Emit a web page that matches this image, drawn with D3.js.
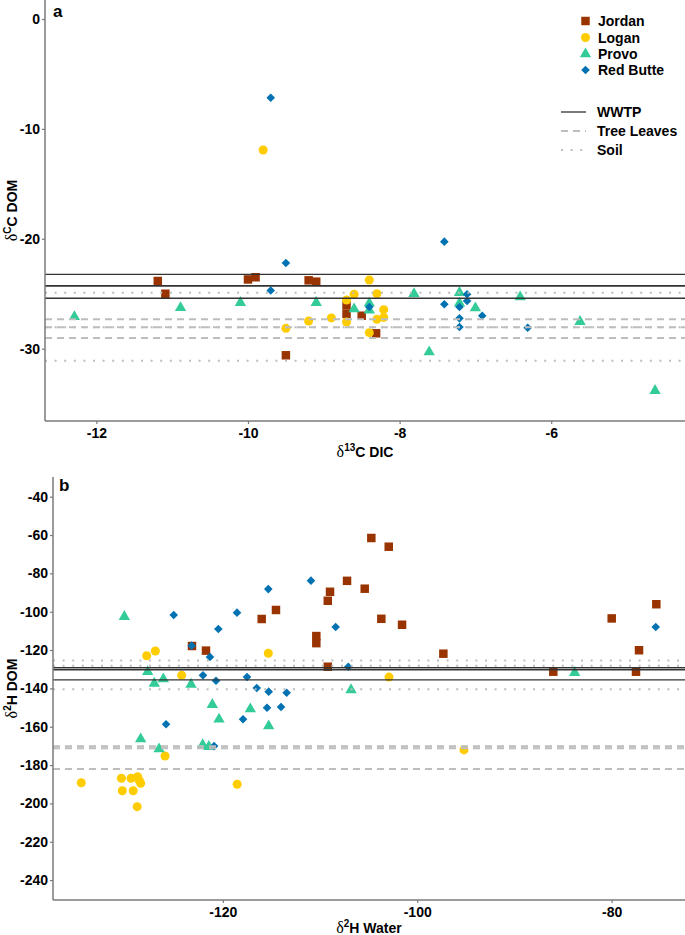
<!DOCTYPE html>
<html><head><meta charset="utf-8">
<script src="https://cdn.jsdelivr.net/npm/d3@7"></script>
<style>
body{margin:0;background:#fff}
svg{display:block}
text{font-family:"Liberation Sans",Arial,sans-serif;font-weight:bold;fill:#000}
.dl{font-family:"Liberation Serif","DejaVu Serif",serif;font-weight:normal}
</style>
</head><body><svg id="c" width="685" height="935"></svg>
<script>
// ---------- DATA ----------
const siteNames = ["Jordan", "Logan", "Provo", "Red Butte"];
const siteColors = ["#993300", "#FFCC00", "#33CC99", "#0072B2"];

// Panel a: [δ13C DIC, δ13C DOM]
const jordanA = [[-11.19,-23.84],[-11.09,-25.0],[-10.0,-23.7],[-9.90,-23.5],[-9.20,-23.78],[-9.10,-23.9],[-9.50,-30.6],[-8.70,-26.07],[-8.70,-26.84],[-8.50,-27.0],[-8.31,-28.6]];
const loganA = [[-9.80,-11.92],[-9.50,-28.15],[-9.20,-27.48],[-8.90,-27.2],[-8.70,-25.57],[-8.70,-27.57],[-8.60,-25.05],[-8.40,-23.75],[-8.30,-25.0],[-8.21,-26.45],[-8.21,-27.15],[-8.30,-27.33],[-8.40,-28.54]];
const provoA = [[-12.29,-27.09],[-10.89,-26.27],[-10.10,-25.81],[-9.10,-25.81],[-8.60,-26.39],[-8.40,-25.87],[-8.40,-26.5],[-7.81,-25.0],[-7.21,-24.9],[-7.21,-25.87],[-7.0,-26.3],[-6.41,-25.3],[-5.62,-27.54],[-7.61,-30.3],[-4.63,-33.82]];
const redButteA = [[-9.70,-7.16],[-9.50,-22.2],[-9.70,-24.7],[-7.41,-20.26],[-8.40,-26.2],[-7.41,-25.96],[-7.11,-25.05],[-7.11,-25.66],[-7.21,-26.2],[-6.91,-27.0],[-7.21,-27.24],[-7.21,-28.03],[-6.31,-28.1]];

// Panel b: [δ2H Water, δ2H DOM]
const jordanB = [[-123.17,-117.9],[-121.73,-120.3],[-116.0,-103.8],[-114.53,-99.1],[-110.38,-112.7],[-110.38,-116.4],[-109.2,-128.7],[-109.2,-94.3],[-108.97,-89.6],[-107.22,-83.9],[-105.4,-88.0],[-104.72,-61.55],[-102.93,-66.1],[-103.69,-103.7],[-101.56,-106.8],[-97.31,-121.9],[-86.0,-131.3],[-79.99,-103.5],[-77.49,-131.3],[-77.18,-120.1],[-75.4,-96.1]];
const loganB = [[-127.83,-123.0],[-126.94,-120.5],[-115.32,-121.7],[-124.23,-133.2],[-102.9,-134.1],[-134.56,-189.2],[-130.43,-186.9],[-130.34,-193.4],[-129.44,-186.9],[-129.22,-193.4],[-128.77,-186.1],[-128.6,-188.0],[-128.45,-189.5],[-128.81,-201.7],[-125.94,-175.3],[-118.52,-190.0],[-95.19,-172.1]];
const provoB = [[-130.13,-102.6],[-127.73,-131.3],[-127.05,-137.4],[-126.12,-135.1],[-123.27,-137.9],[-121.08,-148.5],[-117.17,-150.8],[-120.39,-156.1],[-115.28,-159.6],[-106.81,-140.8],[-83.8,-131.8],[-128.45,-166.4],[-126.56,-171.6],[-122.07,-169.5],[-121.44,-170.4]];
const redButteB = [[-115.32,-88.2],[-110.93,-83.8],[-125.05,-101.7],[-118.54,-100.5],[-120.46,-109.0],[-108.39,-108.0],[-123.2,-117.7],[-121.32,-123.6],[-122.04,-133.2],[-120.7,-136.0],[-117.51,-134.1],[-116.51,-139.8],[-115.28,-141.7],[-113.43,-142.3],[-115.45,-150.1],[-114.01,-149.7],[-117.92,-156.1],[-125.84,-158.7],[-107.09,-128.7],[-120.9,-170.1],[-75.46,-108.0]];

// Source end-member reference lines
const sourceNames = ["WWTP", "Tree Leaves", "Soil"];
const wwtpA = [-23.23, -24.29, -25.41];
const leavesA = [-27.32, -28.05, -29.03];
const soilA = [-24.9, -28.05, -31.1];
const wwtpB = [-129.2, -130.2, -135.6];
const leavesB = [-170.2, -171.2, -182.1];
const soilB = [-125.4, -128.2, -140.5];

// Ticks
const ticksAx = [-12, -10, -8, -6];
const ticksAy = [0, -10, -20, -30];
const ticksBx = [-120, -100, -80];
const ticksBy = [-40, -60, -80, -100, -120, -140, -160, -180, -200, -220, -240];

// ---------- DRAW ----------
const svg = d3.select("#c");

function symPath(i) {
  if (i === 0) return d3.symbol(d3.symbolSquare, 72)();
  if (i === 1) return d3.symbol(d3.symbolCircle, 64)();
  if (i === 2) return d3.symbol(d3.symbolTriangle, 56)();
  return "M0,-4.3L4.3,0L0,4.3L-4.3,0Z";
}

const lineStyles = [
  {stroke: "#333", width: 1.3, dash: null},
  {stroke: "#BDBDBD", width: 2, dash: "7,5"},
  {stroke: "#BDBDBD", width: 2, dash: "2,7.6"}
];

const fmt = d => String(d);

function panel(cfg) {
  const g = svg.append("g");
  const x = d3.scaleLinear().domain(cfg.xDom).range([cfg.left, cfg.right]);
  const y = d3.scaleLinear().domain(cfg.yDom).range([cfg.bottom, cfg.top]);

  // points
  cfg.series.forEach((data, i) => {
    g.append("g").selectAll("path").data(data).join("path")
      .attr("d", symPath(i))
      .attr("transform", d => `translate(${x(d[0])},${y(d[1])})`)
      .attr("fill", siteColors[i]);
  });

  // reference lines (drawn on top of points)
  cfg.lines.forEach((vals, i) => {
    const st = lineStyles[i];
    g.append("g").selectAll("line").data(vals).join("line")
      .attr("x1", cfg.left).attr("x2", cfg.right)
      .attr("y1", d => y(d)).attr("y2", d => y(d))
      .attr("stroke", st.stroke)
      .attr("stroke-width", (d, j) => (i === 0 && j === 1) ? 1.8 : st.width)
      .attr("stroke-dasharray", st.dash);
  });

  // axes
  const ax = g.append("g").attr("transform", `translate(0,${cfg.bottom})`)
    .call(d3.axisBottom(x).tickValues(cfg.xTicks).tickFormat(fmt).tickSize(3).tickPadding(4).tickSizeOuter(0));
  const ay = g.append("g").attr("transform", `translate(${cfg.left},0)`)
    .call(d3.axisLeft(y).tickValues(cfg.yTicks).tickFormat(fmt).tickSize(3).tickPadding(2).tickSizeOuter(0));
  [ax, ay].forEach(a => {
    a.select(".domain").attr("stroke", "#7a7a7a").attr("stroke-width", 1.5);
    a.selectAll(".tick line").attr("stroke", "#7a7a7a").attr("stroke-width", 1.2);
    a.selectAll(".tick text").style("font-family", '"Liberation Sans",Arial,sans-serif')
      .style("font-weight", "bold").attr("font-size", 14).attr("fill", "#000");
  });
  ay.select(".domain").attr("d", `M0,${cfg.top}V${cfg.bottom}`);
  ax.select(".domain").attr("d", `M${cfg.left},0H${cfg.right}`);

  // panel tag
  g.append("text").attr("x", cfg.tagX).attr("y", cfg.tagY).attr("font-size", 17).text(cfg.tag);

  // x title
  const xt = g.append("text").attr("x", (cfg.left + cfg.right) / 2).attr("y", cfg.xTitleY)
    .attr("text-anchor", "middle").attr("font-size", 14);
  xt.append("tspan").attr("class", "dl").attr("font-size", 16).text("δ");
  xt.append("tspan").attr("font-size", 10).attr("dy", -6).text(cfg.xSup);
  xt.append("tspan").attr("dy", 6).text(cfg.xRest);

  // y title
  const yt = g.append("text").attr("transform", `translate(${cfg.yTitleX},${(cfg.top + cfg.bottom) / 2}) rotate(-90)`)
    .attr("text-anchor", "middle").attr("font-size", 14);
  yt.append("tspan").attr("class", "dl").attr("font-size", 16).text("δ");
  yt.append("tspan").attr("font-size", 10).attr("dy", -6).text(cfg.ySup);
  yt.append("tspan").attr("dy", 6).text(cfg.yRest);
}

panel({
  left: 45, right: 685, top: 0, bottom: 421,
  xDom: [-12.678, -4.235], yDom: [-36.58, 1.73],
  series: [jordanA, loganA, provoA, redButteA],
  lines: [wwtpA, leavesA, soilA],
  xTicks: ticksAx, yTicks: ticksAy,
  tag: "a", tagX: 53, tagY: 17,
  xTitleY: 457, xSup: "13", xRest: "C DIC",
  yTitleX: 17, ySup: "C", yRest: "C DOM"
});

panel({
  left: 53, right: 685, top: 477, bottom: 900,
  xDom: [-137.47, -72.45], yDom: [-250.39, -29.73],
  series: [jordanB, loganB, provoB, redButteB],
  lines: [wwtpB, leavesB, soilB],
  xTicks: ticksBx, yTicks: ticksBy,
  tag: "b", tagX: 59, tagY: 491,
  xTitleY: 933, xSup: "2", xRest: "H Water",
  yTitleX: 17, ySup: "2", yRest: "H DOM"
});

// ---------- LEGEND ----------
const leg = svg.append("g");
const legY = [21, 37.5, 54, 70];
siteNames.forEach((n, i) => {
  leg.append("path").attr("d", symPath(i)).attr("transform", `translate(585.5,${legY[i]})`).attr("fill", siteColors[i]);
  leg.append("text").attr("x", 598).attr("y", legY[i] + 5).attr("font-size", 14).text(n);
});
const legLY = [112, 131, 150];
sourceNames.forEach((n, i) => {
  const st = lineStyles[i];
  leg.append("line").attr("x1", 561).attr("x2", 586).attr("y1", legLY[i]).attr("y2", legLY[i])
    .attr("stroke", st.stroke).attr("stroke-width", st.width).attr("stroke-dasharray", st.dash);
  leg.append("text").attr("x", 597).attr("y", legLY[i] + 5).attr("font-size", 14).text(n);
});
</script>
</body></html>
